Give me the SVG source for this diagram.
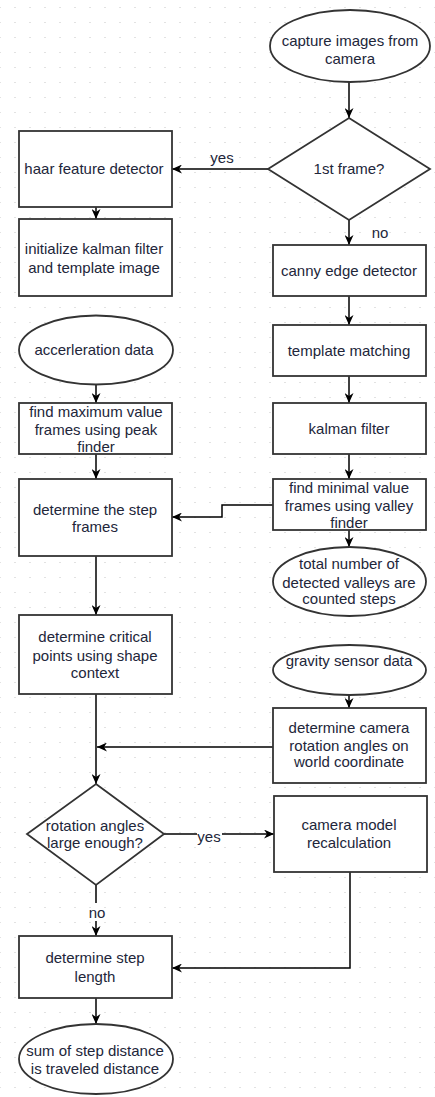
<svg xmlns="http://www.w3.org/2000/svg" width="435" height="1097" viewBox="0 0 435 1097">
  <style>
    .shape { fill: #ffffff; stroke: #333333; stroke-width: 1.8; }
    .edge { fill: none; stroke: #000000; stroke-width: 1.5; marker-end: url(#arrow); }
    .line { fill: none; stroke: #000000; stroke-width: 1.5; }
    text { font-family: "Liberation Sans", Arial, sans-serif; font-size: 15px; fill: #22263a; text-anchor: middle; }
    .lblbg { fill: #ffffff; }
  </style>
  <defs>
    <pattern id="grid" patternUnits="userSpaceOnUse" x="-0.5" y="7" width="15" height="15">
      <rect x="0" y="0" width="1" height="1" fill="#c4c4c4"/>
    </pattern>
    <marker id="arrow" markerUnits="userSpaceOnUse" markerWidth="11" markerHeight="9" refX="10" refY="4.5" orient="auto">
      <path d="M0,0 L10,4.5 L0,9 L3,4.5 Z" fill="#000000"/>
    </marker>
  </defs>

  <!-- dotted canvas -->
  <rect x="0" y="0" width="435" height="1097" fill="#ffffff"/>
  <rect x="0" y="0" width="435" height="1097" fill="url(#grid)"/>

  <!-- connectors -->
  <g id="connectors">
    <path class="edge" d="M349,82 V118"/>
    <path class="edge" d="M268,169 H172"/>
    <path class="edge" d="M96,207 V219"/>
    <path class="edge" d="M349,220 V245"/>
    <path class="edge" d="M349,296 V325"/>
    <path class="edge" d="M349,376 V403"/>
    <path class="edge" d="M349,454 V479"/>
    <path class="edge" d="M96,385 V403"/>
    <path class="edge" d="M96,454 V479"/>
    <path class="edge" d="M273,505 H222 V517 H172"/>
    <path class="edge" d="M349,530 V547"/>
    <path class="edge" d="M96,556 V615"/>
    <path class="edge" d="M349,695 V708"/>
    <path class="edge" d="M96,694 V784"/>
    <path class="edge" d="M273,747 H97"/>
    <path class="edge" d="M164,834 H274"/>
    <path class="edge" d="M96,885 V903 M96,921 V936"/>
    <path class="edge" d="M350,872 V968 H172"/>
    <path class="edge" d="M96,998 V1024"/>
    <!-- edge labels -->
    <text x="222" y="163">yes</text>
    <text x="380" y="238">no</text>
    <rect class="lblbg" x="197" y="829" width="25" height="14"/>
    <text x="209" y="842">yes</text>
    <text x="97" y="918">no</text>
  </g>

  <g id="capture-images">
    <ellipse class="shape" cx="350" cy="46" rx="80" ry="36"/>
    <text x="350" y="46">capture images from</text>
    <text x="350" y="64">camera</text>
  </g>

  <g id="first-frame">
    <polygon class="shape" points="349,118 430,169 349,220 268,169"/>
    <text x="349" y="174">1st frame?</text>
  </g>

  <g id="haar-detector">
    <rect class="shape" x="19" y="131" width="153" height="76"/>
    <text x="94" y="174">haar feature detector</text>
  </g>

  <g id="init-kalman">
    <rect class="shape" x="19" y="219" width="153" height="77"/>
    <text x="94" y="254">initialize kalman filter</text>
    <text x="94" y="273">and template image</text>
  </g>

  <g id="canny">
    <rect class="shape" x="273" y="245" width="153" height="51"/>
    <text x="349" y="276">canny edge detector</text>
  </g>

  <g id="template-matching">
    <rect class="shape" x="273" y="325" width="153" height="51"/>
    <text x="349" y="356">template matching</text>
  </g>

  <g id="kalman-filter">
    <rect class="shape" x="273" y="403" width="153" height="51"/>
    <text x="349" y="434">kalman filter</text>
  </g>

  <g id="acceleration-data">
    <ellipse class="shape" cx="96" cy="350" rx="77" ry="34.5"/>
    <text x="94" y="355">accerleration data</text>
  </g>

  <g id="peak-finder">
    <rect class="shape" x="19" y="403" width="153" height="51"/>
    <text x="96" y="417">find maximum value</text>
    <text x="96" y="435">frames using peak</text>
    <text x="96" y="452">finder</text>
  </g>

  <g id="step-frames">
    <rect class="shape" x="19" y="479" width="153" height="77"/>
    <text x="95" y="515">determine the step</text>
    <text x="95" y="532">frames</text>
  </g>

  <g id="valley-finder">
    <rect class="shape" x="273" y="479" width="153" height="51"/>
    <text x="349" y="493">find minimal value</text>
    <text x="349" y="511">frames using valley</text>
    <text x="349" y="528">finder</text>
  </g>

  <g id="counted-steps">
    <ellipse class="shape" cx="349.5" cy="581.5" rx="76.5" ry="34.5"/>
    <text x="349" y="569">total number of</text>
    <text x="349" y="588">detected valleys are</text>
    <text x="349" y="604">counted steps</text>
  </g>

  <g id="critical-points">
    <rect class="shape" x="19" y="615" width="153" height="79"/>
    <text x="95" y="642">determine critical</text>
    <text x="95" y="661">points using shape</text>
    <text x="95" y="678">context</text>
  </g>

  <g id="gravity-data">
    <ellipse class="shape" cx="349.5" cy="670" rx="76.5" ry="25"/>
    <text x="349" y="666">gravity sensor data</text>
  </g>

  <g id="camera-rotation">
    <rect class="shape" x="273" y="708" width="153" height="75"/>
    <text x="349" y="733">determine camera</text>
    <text x="349" y="751">rotation angles on</text>
    <text x="349" y="767">world coordinate</text>
  </g>

  <g id="angles-check">
    <polygon class="shape" points="96,784 164,834 96,885 27,834"/>
    <text x="95" y="831">rotation angles</text>
    <text x="95" y="848">large enough?</text>
  </g>

  <g id="camera-model">
    <rect class="shape" x="274" y="796" width="153" height="76"/>
    <text x="349" y="830">camera model</text>
    <text x="349" y="848">recalculation</text>
  </g>

  <g id="step-length">
    <rect class="shape" x="19" y="936" width="153" height="62"/>
    <text x="95" y="963">determine step</text>
    <text x="95" y="982">length</text>
  </g>

  <g id="traveled-distance">
    <ellipse class="shape" cx="96" cy="1059" rx="77" ry="35"/>
    <text x="95" y="1056">sum of step distance</text>
    <text x="95" y="1074">is traveled distance</text>
  </g>
</svg>
